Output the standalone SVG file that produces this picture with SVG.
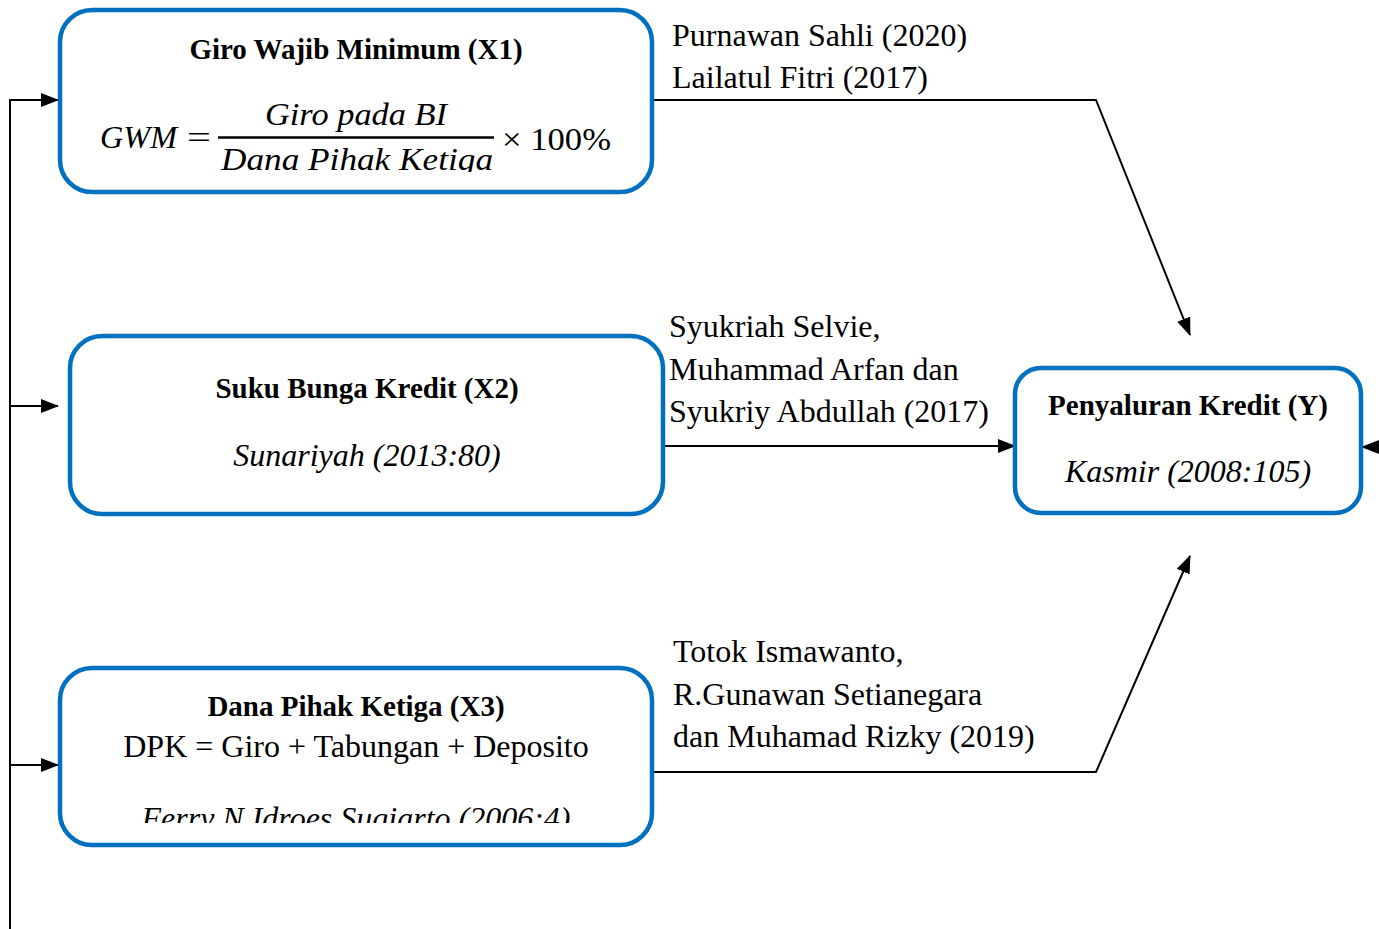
<svg xmlns="http://www.w3.org/2000/svg" width="1379" height="929" viewBox="0 0 1379 929">
<style>
.box{fill:#fff;stroke:#0070C0;stroke-width:4.5}
.t{font-family:"Liberation Serif","Times New Roman",serif;font-size:32px;fill:#000}
.b{font-family:"Liberation Serif","Times New Roman",serif;font-size:29px;font-weight:bold;fill:#000}
.i{font-style:italic}
.m{font-family:"Liberation Serif","DejaVu Serif",serif;font-style:italic;font-size:31px;fill:#000}
.c{fill:none;stroke:#000;stroke-width:2}
</style>
<defs>
<marker id="ah" markerUnits="userSpaceOnUse" markerWidth="18" markerHeight="14" refX="17" refY="7" orient="auto">
<path d="M0,0 L18,7 L0,14 Z" fill="#000"/>
</marker>
<clipPath id="c1"><rect x="60" y="10" width="592" height="162"/></clipPath>
<clipPath id="c3"><rect x="60" y="668" width="592" height="155"/></clipPath>
</defs>
<rect width="1379" height="929" fill="#fff"/>
<g id="connectors">
<path class="c" d="M10,929 V100 H58" marker-end="url(#ah)"/>
<path class="c" d="M10,406 H58" marker-end="url(#ah)"/>
<path class="c" d="M10,765 H58" marker-end="url(#ah)"/>
<path class="c" d="M652,100 H1096 L1190,335" marker-end="url(#ah)"/>
<path class="c" d="M663,446 H1015" marker-end="url(#ah)"/>
<path class="c" d="M652,772 H1096 L1190,556" marker-end="url(#ah)"/>
<path class="c" d="M1379,447 H1362" marker-end="url(#ah)"/>
<text class="t" x="672" y="46">Purnawan Sahli (2020)</text>
<text class="t" x="672" y="88">Lailatul Fitri (2017)</text>
<text class="t" x="669" y="337">Syukriah Selvie,</text>
<text class="t" x="669" y="380">Muhammad Arfan dan</text>
<text class="t" x="669" y="422">Syukriy Abdullah (2017)</text>
<text class="t" x="673" y="662">Totok Ismawanto,</text>
<text class="t" x="673" y="705">R.Gunawan Setianegara</text>
<text class="t" x="673" y="747">dan Muhamad Rizky (2019)</text>
</g>
<g id="x1">
<rect class="box" x="60" y="10" width="592" height="182" rx="32"/>
<text class="b" x="356" y="59" text-anchor="middle">Giro Wajib Minimum (X1)</text>
<g clip-path="url(#c1)">
<text class="m" x="100" y="148" textLength="77" lengthAdjust="spacingAndGlyphs">GWM</text>
<text class="m" x="187" y="148" style="font-style:normal" textLength="24" lengthAdjust="spacingAndGlyphs">=</text>
<text class="m" x="265" y="125" textLength="182" lengthAdjust="spacingAndGlyphs">Giro pada BI</text>
<line x1="218" y1="137.5" x2="494" y2="137.5" stroke="#000" stroke-width="2.5"/>
<text class="m" x="221" y="170" textLength="272" lengthAdjust="spacingAndGlyphs">Dana Pihak Ketiga</text>
<text class="m" x="502" y="150" style="font-style:normal" textLength="109" lengthAdjust="spacingAndGlyphs">× 100%</text>
</g>
</g>
<g id="x2">
<rect class="box" x="70" y="336" width="593" height="178" rx="32"/>
<text class="b" x="367" y="398" text-anchor="middle">Suku Bunga Kredit (X2)</text>
<text class="t i" x="367" y="466" text-anchor="middle">Sunariyah (2013:80)</text>
</g>
<g id="x3">
<rect class="box" x="60" y="668" width="592" height="177" rx="32"/>
<text class="b" x="356" y="716" text-anchor="middle">Dana Pihak Ketiga (X3)</text>
<text class="t" x="356" y="757" text-anchor="middle">DPK = Giro + Tabungan + Deposito</text>
<g clip-path="url(#c3)">
<text class="t i" x="356" y="829" text-anchor="middle">Ferry N Idroes Sugiarto (2006:4)</text>
</g>
</g>
<g id="y">
<rect class="box" x="1015" y="368" width="346" height="145" rx="26"/>
<text class="b" x="1188" y="415" text-anchor="middle">Penyaluran Kredit (Y)</text>
<text class="t i" x="1188" y="482" text-anchor="middle">Kasmir (2008:105)</text>
</g>
</svg>
